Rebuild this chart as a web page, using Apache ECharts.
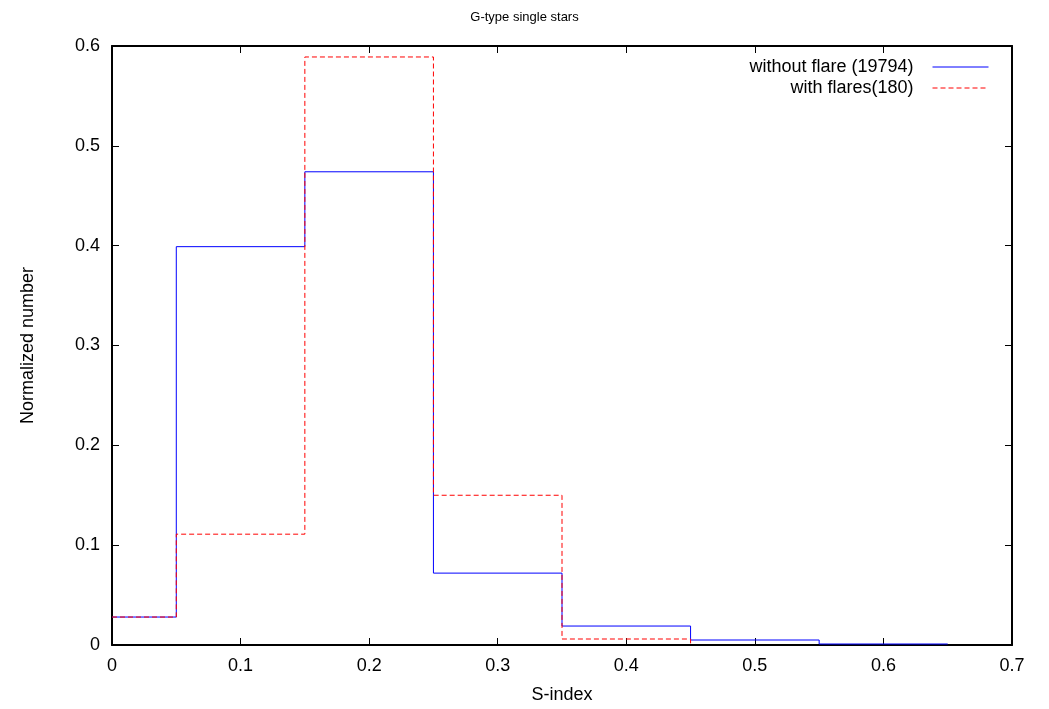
<!DOCTYPE html>
<html>
<head>
<meta charset="utf-8">
<script src="https://cdn.jsdelivr.net/npm/echarts@6/dist/echarts.min.js"></script>
<style>
  html, body { margin: 0; padding: 0; background: #fff; }
  #chart { width: 1049px; height: 709px; }
</style>
</head>
<body>
<div id="chart"></div>
<script>
  // bin left edges, last entry is the closing edge
  var edgesNoFlare = [0, 0.05, 0.15, 0.25, 0.35, 0.45, 0.55, 0.65];
  var valuesNoFlare = [0.028, 0.399, 0.474, 0.072, 0.019, 0.005, 0.001, 0.001];
  var edgesFlare = [0, 0.05, 0.15, 0.25, 0.35, 0.45];
  var valuesFlare = [0.028, 0.111, 0.589, 0.150, 0.006, 0];
  var xTicks = [0, 0.1, 0.2, 0.3, 0.4, 0.5, 0.6, 0.7];
  var yTicks = [0, 0.1, 0.2, 0.3, 0.4, 0.5, 0.6];

  function pairs(xs, ys) {
    return xs.map(function(x, i) { return [x, ys[i]]; });
  }

  var font = 'Liberation Sans, Arial, Helvetica, sans-serif';
  var chart = echarts.init(document.getElementById('chart'), null, { renderer: 'canvas' });

  var baseX = {
    type: 'value', min: 0, max: 0.7, interval: 0.1,
    axisLine: { show: true, onZero: false, lineStyle: { color: '#000', width: 2 } },
    axisTick: { show: true, inside: true, length: 7, lineStyle: { color: '#000', width: 1 } },
    splitLine: { show: false }
  };
  var baseY = {
    type: 'value', min: 0, max: 0.6, interval: 0.1,
    axisLine: { show: true, onZero: false, lineStyle: { color: '#000', width: 2 } },
    axisTick: { show: true, inside: true, length: 7, lineStyle: { color: '#000', width: 1 } },
    splitLine: { show: false }
  };

  chart.setOption({
    animation: false,
    backgroundColor: '#fff',
    title: {
      text: 'G-type single stars',
      left: 'center', top: 6,
      textStyle: { fontFamily: font, fontSize: 13, fontWeight: 'normal', color: '#000' }
    },
    grid: { left: 112, right: 37, top: 46, bottom: 63 },
    legend: {
      orient: 'vertical',
      right: 55, top: 53,
      align: 'right',
      itemWidth: 56, itemHeight: 10, itemGap: 3,
      itemStyle: { opacity: 0 },
      lineStyle: { width: 1 },
      textStyle: { fontFamily: font, fontSize: 18, color: '#000', padding: [0, 14, 0, 0] },
      data: ['without flare (19794)', 'with flares(180)']
    },
    xAxis: [
      Object.assign({}, baseX, {
        position: 'bottom',
        name: 'S-index', nameLocation: 'middle', nameGap: 41,
        nameTextStyle: { fontFamily: font, fontSize: 18, color: '#000' },
        axisLabel: {
          fontFamily: font, fontSize: 18, color: '#000', margin: 12,
          formatter: function(v) { return xTicks.indexOf(+v.toFixed(1)) >= 0 ? String(+v.toFixed(1)) : ''; }
        }
      }),
      Object.assign({}, baseX, { position: 'top', axisLabel: { show: false } })
    ],
    yAxis: [
      Object.assign({}, baseY, {
        position: 'left',
        name: 'Normalized number', nameLocation: 'middle', nameGap: 75,
        nameTextStyle: { fontFamily: font, fontSize: 18, color: '#000' },
        axisLabel: {
          fontFamily: font, fontSize: 18, color: '#000', margin: 12,
          formatter: function(v) { return yTicks.indexOf(+v.toFixed(1)) >= 0 ? String(+v.toFixed(1)) : ''; }
        }
      }),
      Object.assign({}, baseY, { position: 'right', axisLabel: { show: false } })
    ],
    series: [
      {
        name: 'without flare (19794)',
        type: 'line', step: 'end', symbol: 'none',
        lineStyle: { color: '#0000ff', width: 1 },
        itemStyle: { color: '#0000ff' },
        data: pairs(edgesNoFlare, valuesNoFlare)
      },
      {
        name: 'with flares(180)',
        type: 'line', step: 'end', symbol: 'none',
        lineStyle: { color: '#ff0000', width: 1, type: [5, 3] },
        itemStyle: { color: '#ff0000' },
        data: pairs(edgesFlare, valuesFlare)
      }
    ]
  });
  window.addEventListener('resize', function() { chart.resize(); });
</script>
</body>
</html>
